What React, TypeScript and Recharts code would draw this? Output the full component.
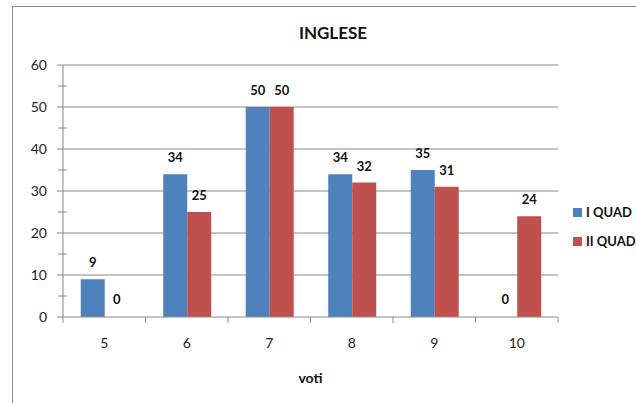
import { Bar, BarChart, CartesianGrid, Cell, LabelList, XAxis, YAxis } from "recharts"

const voti = ["5", "6", "7", "8", "9", "10"]
const iQuad = [9, 34, 50, 34, 35, 0]
const iiQuad = [0, 25, 50, 32, 31, 24]
const yTicks = [0, 5, 10, 15, 20, 25, 30, 35, 40, 45, 50, 55, 60]
const gridValues = [10, 20, 30, 40, 50, 60]

const seriesNames = ["I QUAD", "II QUAD"]
const seriesColors = ["#4F81BD", "#C0504D"]
const seriesValues = [iQuad, iiQuad]

const data = voti.map((v, i) => ({ voto: v, q1: iQuad[i], q2: iiQuad[i] }))

const W = 636
const H = 403
const MARGIN = { top: 65, right: 78, bottom: 26, left: 0 }
const Y_AXIS_W = 63
const X_AXIS_H = 60
const PLOT_W = W - MARGIN.left - MARGIN.right - Y_AXIS_W
const BAND = PLOT_W / voti.length
const X_TICK_MARGIN = 21
const Y_TICK_MARGIN = 16

const FONT = "Lato, 'Open Sans', sans-serif"
const AXIS_GRAY = "#8a8a8a"

// category label in the middle, tick marks on the band edges
function XTick(props: any) {
  const { x, y, payload, index } = props
  const axisY = y - X_TICK_MARGIN
  const left = x - BAND / 2
  const right = x + BAND / 2
  return (
    <g>
      <line x1={left} x2={left} y1={axisY} y2={axisY + 6} stroke={AXIS_GRAY} />
      {index === voti.length - 1 && (
        <line x1={right} x2={right} y1={axisY} y2={axisY + 6} stroke={AXIS_GRAY} />
      )}
      <text x={x} y={y} dy="0.71em" textAnchor="middle" fill="#222" fontSize={14} fontFamily={FONT}>
        {payload.value}
      </text>
    </g>
  )
}

// major ticks outside with a label, minor ticks crossing the axis
function YTick(props: any) {
  const { x, y, payload } = props
  const axisX = x + Y_TICK_MARGIN
  const major = payload.value % 10 === 0
  return (
    <g>
      {major ? (
        <line x1={axisX - 6} x2={axisX} y1={y} y2={y} stroke={AXIS_GRAY} />
      ) : (
        <line x1={axisX - 5} x2={axisX + 4} y1={y} y2={y} stroke={AXIS_GRAY} />
      )}
      {major && (
        <text x={x} y={y} dy="0.35em" textAnchor="end" fill="#222" fontSize={14} fontFamily={FONT}>
          {payload.value}
        </text>
      )}
    </g>
  )
}

// value above each bar, zeros included
function BarValue(props: any) {
  const { x, y, width, value } = props
  if (value == null) return null
  return (
    <text
      x={x + width / 2}
      y={y - 12}
      textAnchor="middle"
      fill="#111"
      fontSize={13}
      fontWeight={700}
      fontFamily={FONT}
    >
      {String(value)}
    </text>
  )
}

export default function App() {
  return (
    <div
      style={{
        position: "fixed",
        left: 0,
        top: 0,
        width: W,
        height: H,
        overflow: "hidden",
        background: "#fff",
        fontFamily: FONT,
      }}
    >
      <div
        style={{
          position: "absolute",
          left: 12,
          top: 6,
          width: 700,
          height: 500,
          border: `1px solid ${AXIS_GRAY}`,
          boxSizing: "border-box",
        }}
      />
      <div
        style={{
          position: "absolute",
          left: 0,
          width: 666,
          top: 22,
          textAlign: "center",
          fontWeight: 700,
          fontSize: 17,
          color: "#111",
        }}
      >
        INGLESE
      </div>
      <BarChart
        width={W}
        height={H}
        data={data}
        margin={MARGIN}
        barCategoryGap="21.5%"
        barGap={0}
        style={{ position: "absolute", left: 0, top: 0 }}
      >
        <CartesianGrid
          vertical={false}
          horizontalValues={gridValues}
          stroke={AXIS_GRAY}
          strokeWidth={1}
        />
        <XAxis
          dataKey="voto"
          height={X_AXIS_H}
          tickLine={false}
          tickSize={0}
          tickMargin={X_TICK_MARGIN}
          axisLine={{ stroke: AXIS_GRAY }}
          tick={<XTick />}
          interval={0}
          label={{
            value: "voti",
            position: "insideBottom",
            offset: -6,
            fill: "#111",
            fontSize: 14,
            fontWeight: 700,
            fontFamily: FONT,
          }}
        />
        <YAxis
          width={Y_AXIS_W}
          domain={[0, 60]}
          ticks={yTicks}
          interval={0}
          tickLine={false}
          tickSize={0}
          tickMargin={Y_TICK_MARGIN}
          axisLine={{ stroke: AXIS_GRAY }}
          tick={<YTick />}
        />
        {["q1", "q2"].map((key, i) => (
          // minPointSize keeps zero bars in the layout so their "0" label still shows
          <Bar key={key} dataKey={key} fill={seriesColors[i]} minPointSize={1} isAnimationActive={false}>
            {seriesValues[i].map((v, j) => (
              <Cell key={j} fill={v === 0 ? "transparent" : seriesColors[i]} />
            ))}
            <LabelList dataKey={key} content={<BarValue />} />
          </Bar>
        ))}
      </BarChart>
      <div style={{ position: "absolute", left: 573, top: 203, fontSize: 13, fontWeight: 700, color: "#111" }}>
        {seriesNames.map((name, i) => (
          <div key={name} style={{ display: "flex", alignItems: "center", height: 18, marginBottom: 11 }}>
            <span style={{ width: 9, height: 9, background: seriesColors[i], marginRight: 4 }} />
            <span style={{ whiteSpace: "nowrap" }}>{name}</span>
          </div>
        ))}
      </div>
    </div>
  )
}
